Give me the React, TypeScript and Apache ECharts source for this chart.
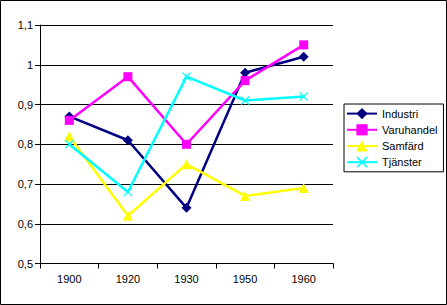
import React, { useEffect, useRef } from "react";
import * as echarts from "echarts";

const categories = ["1900", "1920", "1930", "1950", "1960"];
const industri = [0.87, 0.81, 0.64, 0.98, 1.02];
const varuhandel = [0.86, 0.97, 0.8, 0.96, 1.05];
const samfard = [0.82, 0.62, 0.75, 0.67, 0.69];
const tjanster = [0.8, 0.68, 0.97, 0.91, 0.92];

const FONT = "Liberation Sans, Arial, sans-serif";
const crossPath =
  "path://M0,1L1,0L5,4L9,0L10,1L6,5L10,9L9,10L5,6L1,10L0,9L4,5Z";

export default function App() {
  const ref = useRef<HTMLDivElement>(null);
  useEffect(() => {
    document.body.style.margin = "0";
    const chart = echarts.init(ref.current!, null, { renderer: "svg" });
    const mk = (name: string, data: number[], color: string, symbol: string, size: number) => ({
      name,
      type: "line",
      data,
      symbol,
      symbolSize: size,
      showSymbol: true,
      lineStyle: { color, width: 2.5 },
      itemStyle: { color, borderWidth: 0 },
      emphasis: { disabled: true },
    });
    chart.setOption({
      animation: false,
      backgroundColor: "#ffffff",
      textStyle: { fontFamily: FONT },
      grid: { left: 40, right: 114, top: 25, bottom: 41.5 },
      xAxis: {
        type: "category",
        data: categories,
        boundaryGap: true,
        axisLine: { lineStyle: { color: "#000", width: 1 } },
        axisTick: { show: true, alignWithLabel: false, length: 5, lineStyle: { color: "#000" } },
        axisLabel: { color: "#000", fontSize: 11, fontFamily: FONT, margin: 10 },
        splitLine: { show: false },
      },
      yAxis: {
        type: "value",
        min: 0.5,
        max: 1.1,
        interval: 0.1,
        axisLine: { show: true, lineStyle: { color: "#000", width: 1 } },
        axisTick: { show: true, length: 5, lineStyle: { color: "#000" } },
        axisLabel: {
          color: "#000",
          fontSize: 11,
          fontFamily: FONT,
          margin: 7,
          formatter: (v: number) => {
            let s = v.toFixed(1);
            if (s.endsWith(".0")) s = s.slice(0, -2);
            return s.replace(".", ",");
          },
        },
        splitLine: { show: true, lineStyle: { color: "#000", width: 1 } },
      },
      legend: {
        orient: "vertical",
        left: 344,
        top: 104,
        padding: [4, 6, 4, 2],
        itemGap: 5,
        itemWidth: 30,
        itemHeight: 14,
        borderColor: "#000",
        borderWidth: 1,
        textStyle: { color: "#000", fontSize: 11, fontFamily: FONT },
        selectedMode: false,
        data: ["Industri", "Varuhandel", "Samfärd", "Tjänster"],
      },
      graphic: [
        {
          type: "rect",
          shape: { x: 0.5, y: 0.5, width: 446, height: 304 },
          style: { fill: "none", stroke: "#000", lineWidth: 1 },
          silent: true,
        },
      ],
      series: [
        mk("Industri", industri, "#000080", "diamond", 10),
        mk("Varuhandel", varuhandel, "#FF00FF", "rect", 9),
        mk("Samfärd", samfard, "#FFFF00", "triangle", 10),
        mk("Tjänster", tjanster, "#00FFFF", crossPath, 9),
      ],
    });
    return () => chart.dispose();
  }, []);
  return <div ref={ref} style={{ width: 447, height: 305 }} />;
}
